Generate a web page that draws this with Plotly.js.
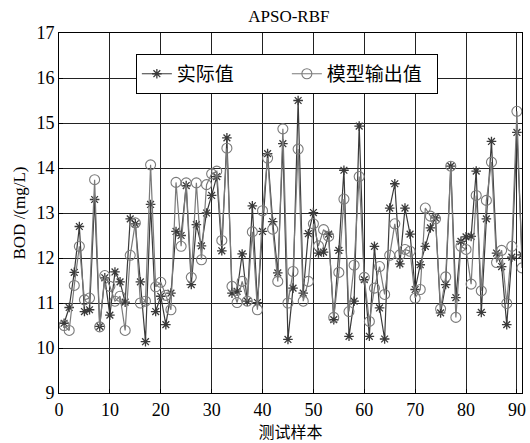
<!DOCTYPE html>
<html><head><meta charset="utf-8">
<script src="https://cdn.plot.ly/plotly-3.0.1.min.js"></script>
<style>html,body{margin:0;padding:0;background:#fff;}#c{width:530px;height:443px;}</style>
</head><body><div id="c"></div>
<script>
const samples = Array.from({length: 91}, (_, i) => i + 1);
const actual = [10.55,10.9,11.68,12.70,10.81,10.85,13.30,10.48,11.56,10.73,
11.69,11.47,11.02,12.87,12.76,11.47,10.14,13.19,10.81,11.15,
10.52,11.22,12.59,12.50,13.61,11.41,12.74,12.27,13.00,13.39,
13.81,12.16,14.67,11.22,11.26,12.09,11.04,13.16,11.01,12.59,
14.32,12.81,11.67,14.54,10.19,11.33,15.50,11.22,12.54,13.01,
12.11,12.13,12.53,10.63,12.17,13.95,10.26,11.04,14.93,11.52,
10.26,12.26,10.89,10.20,13.11,13.65,11.87,13.11,12.53,11.30,
11.85,12.26,12.67,12.89,10.78,11.41,14.04,11.12,12.37,12.47,
12.48,13.93,10.79,12.87,14.59,12.11,11.81,10.52,12.02,14.79,12.07];
const model = [10.5,10.39,11.39,12.26,11.07,11.11,13.74,10.47,11.61,11.37,
11.04,11.15,10.39,12.06,12.78,11.0,11.04,14.07,11.36,11.46,
11.17,10.85,13.68,12.26,13.67,11.57,13.67,11.96,13.63,13.87,
13.93,12.39,14.44,11.37,11.01,11.48,11.04,12.58,10.85,13.05,
14.22,12.64,11.48,14.87,11.0,11.70,14.42,11.04,11.48,12.76,
12.27,12.63,12.48,10.68,11.68,13.31,10.81,11.84,13.81,11.57,
10.59,11.33,11.81,11.19,12.06,12.76,12.07,12.19,12.15,11.11,
11.30,13.11,12.93,12.87,10.87,11.58,14.04,10.68,12.26,12.19,
11.42,13.39,11.27,13.28,14.13,11.90,12.17,10.99,12.26,15.26,11.78];
const names = ['实际值', '模型输出值'];
const xTicks = [0,10,20,30,40,50,60,70,80,90];
const yTicks = [9,10,11,12,13,14,15,16,17];

const serif = 'Liberation Serif, Times New Roman, serif';
const cjk = 'Noto Sans CJK SC, sans-serif';

const traces = [
  {x: samples, y: actual, name: names[0], mode: 'lines+markers', type: 'scatter',
   line: {color: '#3a3a3a', width: 1.2},
   marker: {symbol: 'asterisk-open', size: 8, color: '#3a3a3a', line: {color: '#3a3a3a', width: 1.3}}},
  {x: samples, y: model, name: names[1], mode: 'lines+markers', type: 'scatter',
   line: {color: '#7a7a7a', width: 1.2},
   marker: {symbol: 'circle-open', size: 10, color: '#7a7a7a', line: {color: '#7a7a7a', width: 1.1}}}
];

const layout = {
  width: 530, height: 443,
  margin: {l: 59, r: 8, t: 33, b: 50},
  paper_bgcolor: '#fff', plot_bgcolor: '#fff',
  title: {text: 'APSO-RBF', font: {family: serif, size: 17, color: '#000'}, x: 0.545, xanchor: 'center', y: 0.978, yanchor: 'top'},
  showlegend: true,
  legend: {orientation: 'h', x: 0.166, y: 0.942, xanchor: 'left', yanchor: 'top',
    bgcolor: '#fff', bordercolor: '#000', borderwidth: 1,
    font: {family: cjk, size: 19, color: '#000'}, itemwidth: 30,
    entrywidth: 105, entrywidthmode: 'pixels'},
  xaxis: {range: [0, 91], tickvals: xTicks, ticktext: xTicks.map(String),
    showgrid: true, gridcolor: '#222', gridwidth: 1, zeroline: false,
    showline: true, linecolor: '#000', linewidth: 1, mirror: true,
    ticks: 'inside', ticklen: 4, tickcolor: '#000',
    tickfont: {family: serif, size: 18, color: '#000'},
    title: {text: '测试样本', font: {family: cjk, size: 16, color: '#000'}, standoff: 0}},
  yaxis: {range: [9, 17], tickvals: yTicks, ticktext: yTicks.map(String),
    showgrid: true, gridcolor: '#222', gridwidth: 1, zeroline: false,
    showline: true, linecolor: '#000', linewidth: 1, mirror: true,
    ticks: 'inside', ticklen: 4, tickcolor: '#000',
    tickfont: {family: serif, size: 18, color: '#000'},
    title: {text: 'BOD /(mg/L)', font: {family: serif, size: 17, color: '#000'}, standoff: 6}}
};

Plotly.newPlot('c', traces, layout, {displayModeBar: false, staticPlot: true});
</script></body></html>
